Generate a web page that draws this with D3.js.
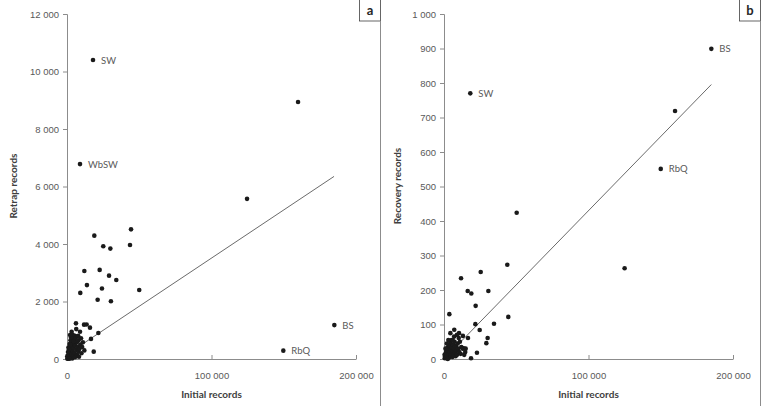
<!DOCTYPE html>
<html>
<head>
<meta charset="utf-8">
<script src="https://cdn.jsdelivr.net/npm/d3@7"></script>
<style>
  body { margin: 0; background: #fff; }
  svg { display: block; font-family: Lato, "Open Sans", sans-serif; }
</style>
</head>
<body>
<div id="chart"></div>
<script>
// Panel a - retrap records vs initial records
var pointsA = [
  [18000, 10400], [9000, 6780], [159900, 8940], [124600, 5570],
  [44300, 4510], [18900, 4290], [43600, 3965], [25100, 3920], [30000, 3840],
  [12000, 3060], [22600, 3100], [29100, 2900], [34100, 2750], [13800, 2570],
  [24200, 2450], [50000, 2400], [9200, 2300], [21200, 2060], [30400, 2010],
  [15900, 1090], [11800, 1195], [13600, 1200], [16600, 700], [21700, 905],
  [18500, 255], [185000, 1180], [149700, 290],
  [500, 20], [800, 60], [1000, 120], [1200, 30], [1500, 200], [1700, 80], [2000, 310],
  [2100, 150], [2300, 40], [2500, 420], [2600, 260], [2800, 90], [3000, 560], [3100, 350],
  [3200, 950], [3300, 180], [3500, 640], [3600, 20], [3800, 470], [4000, 280], [4100, 720],
  [4300, 120], [4500, 560], [4700, 390], [5000, 820], [5200, 210], [5300, 630], [5500, 60],
  [5800, 480], [6000, 730], [6200, 1240], [6400, 1040], [6500, 320], [6800, 580], [7000, 150],
  [7300, 800], [7500, 420], [7800, 260], [8000, 650], [8300, 80], [8600, 350], [9000, 950],
  [9200, 500], [9700, 720], [10000, 200], [10500, 420], [11000, 580], [12000, 300],
  [1000, 400], [1800, 520], [2400, 650], [2800, 760], [3600, 850], [4500, 620], [300, 10],
  [700, 240], [1300, 330], [200, 100], [1600, 10], [2200, 500], [7800, 800], [2100, 835]
];
var labelNamesA = ["SW", "WbSW", "BS", "RbQ"];
var labelPointsA = [[18000, 10400], [9000, 6780], [185000, 1180], [149700, 290]];
var fitA = [0.0335, 160];          // slope, intercept
var fitRangeA = [1000, 184800];
var yTicksA = [0, 2000, 4000, 6000, 8000, 10000, 12000];

// Panel b - recovery records vs initial records
var pointsB = [
  [18200, 770], [185000, 899], [159900, 719], [150000, 551],
  [50300, 424], [43800, 273], [125000, 263], [25400, 252], [11800, 234], [16400, 197],
  [18900, 190], [30700, 197], [21900, 154], [3700, 130], [44500, 122], [34600, 102],
  [21700, 101], [16600, 61], [24700, 84], [30200, 61], [29300, 46], [22800, 18],
  [18700, 2], [7100, 85], [4400, 75], [10400, 75], [13100, 67], [10200, 61],
  [13600, 31], [14700, 20],
  [500, 2], [800, 8], [1000, 15], [1200, 3], [1500, 22], [1800, 10], [2000, 30], [2200, 5],
  [2500, 18], [2800, 35], [3000, 12], [3200, 26], [3500, 4], [3800, 40], [4000, 20],
  [4300, 9], [4500, 48], [4800, 28], [5000, 15], [5300, 55], [5500, 33], [5800, 6],
  [6000, 22], [6300, 42], [6600, 13], [7000, 30], [7300, 50], [7600, 18], [8000, 8],
  [8300, 38], [8700, 25], [9000, 12], [9500, 45], [10000, 30], [10500, 20], [11000, 50],
  [11500, 15], [12000, 35], [13000, 30], [14000, 12], [15000, 30], [7000, 65], [9000, 70],
  [6000, 55], [3000, 55], [2000, 45], [1000, 30], [400, 12], [1500, 5], [2600, 0]
];
var labelNamesB = ["SW", "BS", "RbQ"];
var labelPointsB = [[18200, 770], [185000, 899], [150000, 551]];
var fitB = [0.0043, 0];
var fitRangeB = [1000, 185000];
var yTicksB = [0, 100, 200, 300, 400, 500, 600, 700, 800, 900, 1000];

var xTicks = [0, 100000, 200000];

var locale = d3.formatLocale({ decimal: ",", thousands: "\u00a0", grouping: [3], currency: ["", ""] });
var fmt = locale.format(",d");

var svg = d3.select("#chart").append("svg")
    .attr("width", 762)
    .attr("height", 406);

svg.append("rect").attr("width", 762).attr("height", 406).attr("fill", "#fff");

// Draws one scatter panel
function drawPanel(opt) {
    var x = d3.scaleLinear().domain([0, 200000]).range([opt.left, opt.left + 289]);
    var y = d3.scaleLinear().domain([0, opt.yMax]).range([359, 14]);

    var g = svg.append("g");

    // y axis
    var yAxis = g.append("g")
        .attr("transform", "translate(" + opt.left + ",0)")
        .call(d3.axisLeft(y).tickValues(opt.yTicks).tickFormat(fmt).tickSize(4).tickPadding(4));
    // x axis, ticks point up
    var xAxis = g.append("g")
        .attr("transform", "translate(0,359)")
        .call(d3.axisBottom(x).tickValues(xTicks).tickFormat(fmt).tickSizeInner(-4).tickSizeOuter(0).tickPadding(13));

    [yAxis, xAxis].forEach(function (a) {
        a.select(".domain").attr("stroke", "#8c8c8c");
        a.selectAll(".tick line").attr("stroke", "#8c8c8c");
        a.selectAll(".tick text").attr("fill", "#595959").style("font-size", "9.5px");
    });

    // fitted line
    g.append("line")
        .attr("x1", x(opt.fitRange[0])).attr("y1", y(opt.fit[0] * opt.fitRange[0] + opt.fit[1]))
        .attr("x2", x(opt.fitRange[1])).attr("y2", y(opt.fit[0] * opt.fitRange[1] + opt.fit[1]))
        .attr("stroke", "#595959").attr("stroke-width", 0.9);

    g.selectAll(".dot")
        .data(opt.points)
        .enter()
        .append("circle")
        .attr("class", "dot")
        .attr("cx", function (d) { return x(d[0]); })
        .attr("cy", function (d) { return y(d[1]); })
        .attr("r", 2.3)
        .attr("fill", "#1a1a1a");

    g.selectAll(".lbl")
        .data(opt.labelPoints)
        .enter()
        .append("text")
        .attr("x", function (d) { return x(d[0]) + 8; })
        .attr("y", function (d) { return y(d[1]) + 3.5; })
        .attr("fill", "#595959")
        .style("font-size", "9.5px")
        .text(function (d, i) { return opt.labelNames[i]; });

    // axis titles
    g.append("text")
        .attr("x", x(100000)).attr("y", 398)
        .attr("text-anchor", "middle")
        .attr("fill", "#404040")
        .style("font-size", "10px").style("font-weight", "bold")
        .text("Initial records");

    g.append("text")
        .attr("transform", "translate(" + opt.titleX + ",186) rotate(-90)")
        .attr("text-anchor", "middle")
        .attr("fill", "#404040")
        .style("font-size", "10px").style("font-weight", "bold")
        .text(opt.yTitle);

    // panel letter box
    g.append("rect")
        .attr("x", opt.boxX).attr("y", -1).attr("width", 21).attr("height", 22)
        .attr("fill", "#fff").attr("stroke", "#404040").attr("stroke-width", 0.8);
    g.append("text")
        .attr("x", opt.boxX + 10.5).attr("y", 15)
        .attr("text-anchor", "middle")
        .attr("fill", "#262626")
        .style("font-size", "13px").style("font-weight", "bold")
        .text(opt.letter);

    // right panel border
    g.append("line")
        .attr("x1", opt.boxX + 21).attr("x2", opt.boxX + 21)
        .attr("y1", 21).attr("y2", 406)
        .attr("stroke", "#8c8c8c").attr("stroke-width", 1);
}

drawPanel({
    left: 67, yMax: 12000, yTicks: yTicksA, points: pointsA,
    labelNames: labelNamesA, labelPoints: labelPointsA,
    fit: fitA, fitRange: fitRangeA, yTitle: "Retrap records", titleX: 17,
    boxX: 359.5, letter: "a"
});

drawPanel({
    left: 444, yMax: 1000, yTicks: yTicksB, points: pointsB,
    labelNames: labelNamesB, labelPoints: labelPointsB,
    fit: fitB, fitRange: fitRangeB, yTitle: "Recovery records", titleX: 401,
    boxX: 739.5, letter: "b"
});
</script>
</body>
</html>
